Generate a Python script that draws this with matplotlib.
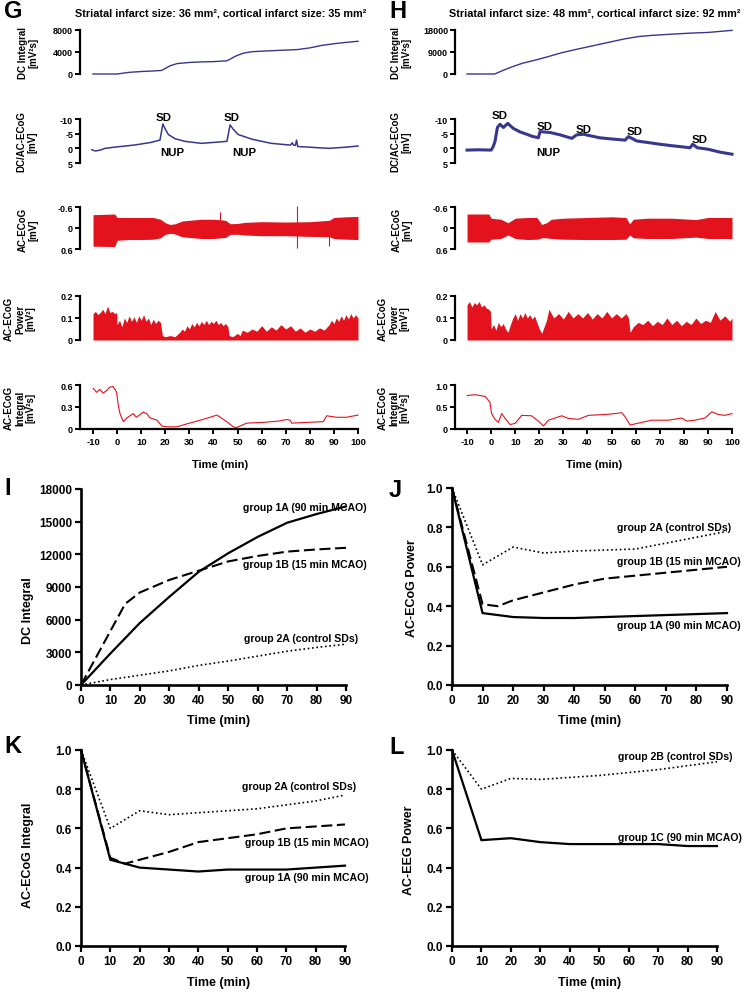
import matplotlib
matplotlib.use("Agg")
import matplotlib.pyplot as plt

plt.rcParams['font.family'] = ['Liberation Sans', 'DejaVu Sans']
plt.rcParams['font.weight'] = 'bold'
plt.rcParams['axes.unicode_minus'] = False

# =========================
# data: G (example recording, left)
# =========================
dc_g_t = [-10, 0, 5, 10, 15, 18.5, 20, 22, 25, 30, 35, 40, 45.5, 47, 48.5, 50, 52.5, 56, 60, 65, 70, 75, 80, 85, 90, 95, 100]
dc_g_v = [0, 0, 300, 450, 550, 650, 1000, 1500, 1900, 2100, 2200, 2250, 2400, 2700, 3100, 3400, 3800, 4050, 4150, 4250, 4350, 4450, 4750, 5200, 5500, 5750, 5950]

dcac_g_t = [-10.5, -9, -7, -5, 0, 7, 14, 17.8, 19, 19.9, 21.3, 24, 28, 35, 43, 45.6, 46.9, 48.3, 50.3, 56, 64, 72,
            72.7, 73.2, 74, 74.5, 75, 78, 83.5, 88, 95, 100]
dcac_g_v = [0.5, 0.9, 0.6, 0.0, -0.5, -1.1, -2.0, -2.8, -8.3, -6.7, -4.7, -3.3, -2.4, -1.7, -2.2, -2.4, -8.0, -6.4, -4.7, -3.1, -1.7, -1.1,
            -1.9, -1.1, -1.0, -2.8, -0.6, -0.5, -0.2, 0.0, -0.4, -0.8]

ac_g_t = [-10, -1, 0, 5, 10, 15, 18, 20, 22, 24, 27, 30, 35, 40, 45, 47, 50, 53, 60, 70, 80, 88, 90, 95, 100]
ac_g_top = [-0.38, -0.4, -0.3, -0.3, -0.3, -0.3, -0.25, -0.15, -0.1, -0.12, -0.2, -0.22, -0.25, -0.25, -0.22, -0.12, -0.13, -0.16,
            -0.18, -0.17, -0.18, -0.22, -0.3, -0.32, -0.33]
ac_g_bot = [0.52, 0.53, 0.35, 0.33, 0.33, 0.32, 0.28, 0.18, 0.15, 0.17, 0.25, 0.27, 0.3, 0.3, 0.27, 0.18, 0.18, 0.2,
            0.22, 0.22, 0.24, 0.25, 0.3, 0.32, 0.33]
spike_g_t = [42.7, 74.8, 87.8]
spike_g_top = [-0.45, -0.62, -0.2]
spike_g_bot = [0.25, 0.58, 0.5]

pw_g_t = [-10, -9, -8, -7, -6, -5, -4, -3, -2, -1, -0.2, 0, 1, 2, 3, 4, 5, 6, 7, 8, 9, 10, 11, 12, 13, 14, 15, 16, 17, 18,
          18.8, 20, 22, 24, 26, 27, 28, 29, 30, 31, 32, 33, 34, 35, 36, 37, 38, 39, 40, 41, 42, 43, 44, 45, 46, 46.5,
          48, 50, 51, 52, 54, 56, 58, 60, 62, 64, 66, 68, 70, 72, 74, 76, 78, 80, 82, 84, 86, 88, 89, 90, 91, 92, 93,
          94, 95, 96, 97, 98, 99, 100]
pw_g_v = [0.12, 0.13, 0.115, 0.125, 0.14, 0.12, 0.155, 0.125, 0.13, 0.12, 0.125, 0.07, 0.09, 0.06, 0.1, 0.08, 0.11, 0.085,
          0.105, 0.08, 0.11, 0.09, 0.115, 0.085, 0.1, 0.07, 0.095, 0.075, 0.09, 0.08, 0.02, 0.015, 0.02, 0.015, 0.035,
          0.05, 0.04, 0.065, 0.05, 0.075, 0.06, 0.08, 0.065, 0.085, 0.07, 0.09, 0.07, 0.085, 0.075, 0.09, 0.07, 0.08,
          0.065, 0.075, 0.06, 0.02, 0.015, 0.03, 0.02, 0.045, 0.035, 0.05, 0.04, 0.065, 0.04, 0.06, 0.045, 0.07, 0.05,
          0.065, 0.04, 0.055, 0.035, 0.05, 0.04, 0.055, 0.045, 0.07, 0.09, 0.075, 0.1, 0.085, 0.11, 0.09, 0.115, 0.095,
          0.12, 0.1, 0.115, 0.1]

int_g_t = [-9.9, -8.5, -7.2, -5.8, -4.5, -3.1, -1.7, -0.9, -0.2, 0.5, 1.2, 2.6, 4, 6.7, 8, 10.9, 12.3, 13.7, 16.6, 18.6,
           20.7, 24.8, 29, 34.5, 38.6, 41.4, 42.8, 45.5, 48.2, 49.6, 53.8, 60.7, 67.6, 70.4, 71.8, 72.5, 78.7, 85.6, 87,
           91.1, 95.3, 100]
int_g_v = [0.555, 0.50, 0.54, 0.49, 0.52, 0.57, 0.58, 0.54, 0.50, 0.32, 0.21, 0.10, 0.15, 0.21, 0.16, 0.23, 0.21, 0.15,
           0.12, 0.04, 0.03, 0.03, 0.07, 0.12, 0.16, 0.19, 0.16, 0.10, 0.03, 0.02, 0.08, 0.09, 0.11, 0.13, 0.12, 0.08,
           0.09, 0.10, 0.18, 0.16, 0.16, 0.19]

# =========================
# data: H (example recording, right)
# =========================
dc_h_t = [-10, 1.5, 5, 8.6, 13, 18.2, 24, 29.3, 35, 41.8, 48, 55.6, 61, 66.7, 75, 83.3, 90, 100]
dc_h_v = [0, 0, 1500, 2900, 4400, 5650, 7200, 8700, 10000, 11450, 12800, 14400, 15300, 15800, 16300, 16750, 17000, 17850]

dcac_h_t = [-10, -5, 0, 0.8, 1.6, 2.6, 3.7, 5.1, 6.9, 9.2, 12, 14.8, 17, 19.6, 20.3, 24.5, 28.6, 33.5, 35.5, 38.3, 45,
            50, 55.6, 57, 60.5, 65, 70, 75, 82.6, 83.7, 85.6, 90, 95, 100]
dcac_h_v = [0.6, 0.5, 0.6, -0.5, -2.3, -7.1, -8.2, -7.1, -8.5, -6.8, -5.6, -4.8, -4.1, -3.6, -5.7, -5.4, -4.6, -3.4, -4.6,
            -4.8, -3.6, -3.2, -2.8, -4.0, -2.5, -2.0, -1.4, -0.9, -0.2, -1.4, -0.2, 0.3, 1.3, 2.0]

ac_h_t = [-10, -1, 0, 4, 7, 10, 15, 19, 21, 23, 25, 30, 40, 50, 56, 57.5, 59, 65, 75, 85, 90, 100]
ac_h_top = [-0.4, -0.4, -0.28, -0.25, -0.15, -0.28, -0.3, -0.3, -0.1, -0.15, -0.25, -0.28, -0.3, -0.32, -0.3, -0.12,
            -0.25, -0.28, -0.28, -0.24, -0.3, -0.3]
ac_h_bot = [0.4, 0.4, 0.32, 0.3, 0.2, 0.3, 0.33, 0.32, 0.28, 0.28, 0.3, 0.32, 0.33, 0.33, 0.32, 0.2, 0.28, 0.3, 0.3,
            0.26, 0.3, 0.3]

pw_h_t = [-10, -9, -8, -7, -6, -5, -4, -3, -2, -1, -0.3, 0, 1, 2, 3, 4, 5, 6, 7, 8, 9, 10, 11, 12, 13, 14, 15, 16, 17,
          18, 19, 20, 21, 22, 23, 24, 26, 28, 30, 32, 34, 36, 38, 40, 42, 44, 46, 48, 50, 52, 54, 56, 57, 57.7, 59, 61,
          63, 65, 67, 69, 71, 73, 75, 77, 79, 81, 83, 85, 87, 89, 91, 93, 95, 97, 99, 100]
pw_h_v = [0.16, 0.175, 0.15, 0.17, 0.16, 0.175, 0.15, 0.16, 0.145, 0.14, 0.13, 0.05, 0.07, 0.045, 0.08, 0.06, 0.075,
          0.05, 0.035, 0.07, 0.1, 0.12, 0.09, 0.12, 0.1, 0.125, 0.1, 0.115, 0.095, 0.11, 0.08, 0.05, 0.03, 0.06, 0.09,
          0.14, 0.1, 0.12, 0.095, 0.13, 0.1, 0.12, 0.1, 0.125, 0.095, 0.12, 0.1, 0.13, 0.1, 0.12, 0.1, 0.12, 0.1,
          0.035, 0.06, 0.08, 0.07, 0.09, 0.065, 0.085, 0.07, 0.1, 0.07, 0.09, 0.065, 0.085, 0.07, 0.1, 0.075, 0.09,
          0.08, 0.13, 0.09, 0.11, 0.085, 0.1]

int_h_t = [-9.9, -6.7, -2.5, -0.5, 0.2, 1.6, 3, 4.4, 5.8, 7.9, 10, 12.7, 16.8, 19.6, 21.7, 23.8, 29.3, 32.1, 36.2, 40.4,
           47.3, 51.4, 54.2, 55.6, 57.7, 62.5, 66.7, 73.6, 79.1, 81.2, 84.6, 88.8, 91.6, 94.3, 97.1, 100]
int_h_v = [0.76, 0.78, 0.74, 0.61, 0.35, 0.22, 0.15, 0.35, 0.24, 0.10, 0.13, 0.31, 0.30, 0.18, 0.07, 0.20, 0.30, 0.24,
           0.22, 0.31, 0.33, 0.35, 0.37, 0.28, 0.09, 0.15, 0.20, 0.20, 0.25, 0.18, 0.20, 0.25, 0.39, 0.33, 0.31, 0.35]

# =========================
# data: group means (I-L)
# =========================
t_grp = [0, 10, 20, 30, 40, 50, 60, 70, 80, 90]
t_grp_1b = [0, 15, 20, 30, 40, 50, 60, 70, 80, 90]
t_grp_1b_jk = [0, 10, 15, 20, 30, 40, 50, 60, 70, 80, 90]

i_1a = [0, 2900, 5700, 8100, 10400, 12100, 13600, 14900, 15700, 16400]
i_1b = [0, 7450, 8500, 9650, 10500, 11350, 11850, 12250, 12450, 12600]
i_2a = [0, 500, 900, 1300, 1800, 2200, 2650, 3100, 3450, 3750]

j_2a = [1.0, 0.61, 0.70, 0.67, 0.68, 0.685, 0.69, 0.72, 0.75, 0.78]
j_1b = [1.0, 0.41, 0.40, 0.43, 0.47, 0.51, 0.54, 0.555, 0.57, 0.585, 0.60]
j_1a = [1.0, 0.365, 0.345, 0.34, 0.34, 0.345, 0.35, 0.355, 0.36, 0.365]

k_2a = [1.0, 0.60, 0.69, 0.67, 0.68, 0.69, 0.70, 0.72, 0.74, 0.77]
k_1b = [1.0, 0.45, 0.42, 0.44, 0.48, 0.53, 0.55, 0.57, 0.60, 0.61, 0.62]
k_1a = [1.0, 0.44, 0.40, 0.39, 0.38, 0.39, 0.39, 0.39, 0.40, 0.41]

l_2b = [1.0, 0.80, 0.855, 0.85, 0.86, 0.87, 0.885, 0.90, 0.92, 0.94]
l_1c = [1.0, 0.54, 0.55, 0.53, 0.52, 0.52, 0.52, 0.52, 0.51, 0.51]

# =========================
# layout helpers (pixel coords)
# =========================
W, H = 753, 995
BLUE = '#37378e'
RED = '#e3121c'

fig = plt.figure(figsize=(W / 100, H / 100), dpi=100)


def add_ax(x0, y0, x1, y1):
    return fig.add_axes([x0 / W, 1 - y1 / H, (x1 - x0) / W, (y1 - y0) / H])


def ftext(x, y, s, **kw):
    fig.text(x / W, 1 - y / H, s, **kw)


rows_y = [(31, 75), (120, 164), (208, 250), (297, 341), (386, 430)]


def trace_axes(x0, x1, xmin):
    axs = []
    for i, (y0, y1) in enumerate(rows_y):
        ax = add_ax(x0, y0, x1, y1)
        ax.patch.set_alpha(0)
        ax.set_xlim(xmin, 100)
        for s in ['top', 'right', 'bottom']:
            ax.spines[s].set_visible(False)
        ax.spines['left'].set_linewidth(1.6)
        ax.tick_params(axis='y', direction='out', length=3.5, width=1.4, labelsize=6.5, pad=1.5)
        if i == 4:
            ax.spines['bottom'].set_visible(True)
            ax.spines['bottom'].set_linewidth(1.6)
            ax.set_xticks(range(-10, 101, 10))
            ax.tick_params(axis='x', direction='out', length=3.5, width=1.4, labelsize=6.8, pad=2)
        else:
            ax.set_xticks([])
        axs.append(ax)
    return axs


def set_y(ax, lim, ticks, labels):
    ax.set_ylim(*lim)
    ax.set_yticks(ticks)
    ax.set_yticklabels(labels)


# ---------- G ----------
g = trace_axes(80, 358, -15.4)
set_y(g[0], (0, 8000), [0, 4000, 8000], ['0', '4000', '8000'])
set_y(g[1], (5, -10), [-10, -5, 0, 5], ['-10', '-5', '0', '5'])
set_y(g[2], (0.6, -0.6), [-0.6, 0, 0.6], ['-0.6', '0', '0.6'])
set_y(g[3], (0, 0.2), [0, 0.1, 0.2], ['0', '0.1', '0.2'])
set_y(g[4], (0, 0.6), [0, 0.3, 0.6], ['0', '0.3', '0.6'])

g[0].plot(dc_g_t, dc_g_v, color=BLUE, lw=1.0, clip_on=False)
g[1].plot(dcac_g_t, dcac_g_v, color=BLUE, lw=1.1, clip_on=False)
g[2].fill_between(ac_g_t, ac_g_top, ac_g_bot, color=RED, lw=0, clip_on=False)
g[2].vlines(spike_g_t, spike_g_top, spike_g_bot, color=RED, lw=0.8, clip_on=False)
g[3].fill_between(pw_g_t, 0, pw_g_v, color=RED, lw=0)
g[4].plot(int_g_t, int_g_v, color=RED, lw=0.8, clip_on=False)

for ax_, tt, vv, ss in [(g[1], 19.1, -10.6, 'SD'), (g[1], 47.7, -10.6, 'SD'),
                        (g[1], 22.8, 1.3, 'NUP'), (g[1], 52.8, 1.3, 'NUP')]:
    ax_.text(tt, vv, ss, fontsize=8.2, ha='center', va='center', clip_on=False)

# ---------- H ----------
h = trace_axes(455, 732, -15.0)
set_y(h[0], (0, 18000), [0, 9000, 18000], ['0', '9000', '18000'])
set_y(h[1], (5, -10), [-10, -5, 0, 5], ['-10', '-5', '0', '5'])
set_y(h[2], (0.6, -0.6), [-0.6, 0, 0.6], ['-0.6', '0', '0.6'])
set_y(h[3], (0, 0.2), [0, 0.1, 0.2], ['0', '0.1', '0.2'])
set_y(h[4], (0, 1.0), [0, 0.5, 1.0], ['0', '0.5', '1.0'])

h[0].plot(dc_h_t, dc_h_v, color=BLUE, lw=1.0, clip_on=False)
h[1].plot(dcac_h_t, dcac_h_v, color=BLUE, lw=2.2, clip_on=False)
h[2].fill_between(ac_h_t, ac_h_top, ac_h_bot, color=RED, lw=0, clip_on=False)
h[3].fill_between(pw_h_t, 0, pw_h_v, color=RED, lw=0)
h[4].plot(int_h_t, int_h_v, color=RED, lw=0.8, clip_on=False)

for tt, vv in [(3.7, -11.3), (22, -7.6), (38.2, -6.6), (59.7, -5.9), (86.7, -3.2)]:
    h[1].text(tt, vv, 'SD', fontsize=8.2, ha='center', va='center', clip_on=False)
h[1].text(23.6, 1.1, 'NUP', fontsize=8.2, ha='center', va='center', clip_on=False)

# row labels of the traces
row_labels = ['DC Integral\n[mV²s]', 'DC/AC-ECoG\n[mV]', 'AC-ECoG\n[mV]',
              'AC-ECoG\nPower\n[mV²]', 'AC-ECoG\nIntegral\n[mV²s]']
row_cy = [53, 142, 230, 319, 408]
g_lx = [28, 27, 28, 20, 20]
h_lx = [401, 401, 402, 394, 394]
for lab, cy, gx, hx in zip(row_labels, row_cy, g_lx, h_lx):
    ftext(gx, cy, lab, rotation=90, ha='center', va='center', fontsize=7, linespacing=1.1, multialignment='center')
    ftext(hx, cy, lab, rotation=90, ha='center', va='center', fontsize=7, linespacing=1.1, multialignment='center')

ftext(221, 14, 'Striatal infarct size: 36 mm², cortical infarct size: 35 mm²', ha='center', va='center', fontsize=7.8)
ftext(595, 14, 'Striatal infarct size: 48 mm², cortical infarct size: 92 mm²', ha='center', va='center', fontsize=7.8)
ftext(220, 465, 'Time (min)', ha='center', va='center', fontsize=8)
ftext(594, 465, 'Time (min)', ha='center', va='center', fontsize=8)


# ---------- I-L ----------
def group_axes(box, ylim, yticks, ylabels):
    ax = add_ax(*box)
    ax.patch.set_alpha(0)
    ax.set_xlim(0, 90)
    ax.set_ylim(*ylim)
    ax.set_xticks(range(0, 91, 10))
    ax.set_yticks(yticks)
    ax.set_yticklabels(ylabels)
    for s in ['top', 'right']:
        ax.spines[s].set_visible(False)
    for s in ['left', 'bottom']:
        ax.spines[s].set_linewidth(1.9)
    ax.tick_params(direction='out', length=4, width=1.6, labelsize=8.5, pad=2.5)
    return ax


def solid(ax, x, y):
    ax.plot(x, y, color='black', lw=1.6, clip_on=False, solid_joinstyle='miter')


def dashed(ax, x, y):
    ax.plot(x, y, color='black', lw=1.5, dashes=(5.3, 2.2), clip_on=False)


def dotted(ax, x, y):
    ax.plot(x, y, color='black', lw=1.2, dashes=(1, 1.6), clip_on=False)


frac_ticks = [0, 0.2, 0.4, 0.6, 0.8, 1.0]
frac_labels = ['0.0', '0.2', '0.4', '0.6', '0.8', '1.0']

ax_i = group_axes((81, 490, 346, 686), (0, 18000), list(range(0, 18001, 3000)),
                  [str(v) for v in range(0, 18001, 3000)])
solid(ax_i, t_grp, i_1a)
dashed(ax_i, t_grp_1b, i_1b)
dotted(ax_i, t_grp, i_2a)
ax_i.text(55, 16350, 'group 1A (90 min MCAO)', fontsize=7.6, va='center', clip_on=False)
ax_i.text(55, 11100, 'group 1B (15 min MCAO)', fontsize=7.6, va='center', clip_on=False)
ax_i.text(55.3, 4350, 'group 2A (control SDs)', fontsize=7.6, va='center', clip_on=False)

ax_j = group_axes((452, 489, 727, 686), (0, 1.0), frac_ticks, frac_labels)
dotted(ax_j, t_grp, j_2a)
dashed(ax_j, t_grp_1b_jk, j_1b)
solid(ax_j, t_grp, j_1a)
ax_j.text(54, 0.80, 'group 2A (control SDs)', fontsize=7.6, va='center', clip_on=False)
ax_j.text(54, 0.63, 'group 1B (15 min MCAO)', fontsize=7.6, va='center', clip_on=False)
ax_j.text(54, 0.305, 'group 1A (90 min MCAO)', fontsize=7.6, va='center', clip_on=False)

ax_k = group_axes((81, 751, 345, 947), (0, 1.0), frac_ticks, frac_labels)
dotted(ax_k, t_grp, k_2a)
dashed(ax_k, t_grp_1b_jk, k_1b)
solid(ax_k, t_grp, k_1a)
ax_k.text(55, 0.816, 'group 2A (control SDs)', fontsize=7.6, va='center', clip_on=False)
ax_k.text(55.9, 0.53, 'group 1B (15 min MCAO)', fontsize=7.6, va='center', clip_on=False)
ax_k.text(55.9, 0.352, 'group 1A (90 min MCAO)', fontsize=7.6, va='center', clip_on=False)

ax_l = group_axes((452, 751, 717, 947), (0, 1.0), frac_ticks, frac_labels)
dotted(ax_l, t_grp, l_2b)
solid(ax_l, t_grp, l_1c)
ax_l.text(56.4, 0.97, 'group 2B (control SDs)', fontsize=7.6, va='center', clip_on=False)
ax_l.text(56.4, 0.556, 'group 1C (90 min MCAO)', fontsize=7.6, va='center', clip_on=False)

ftext(28, 611, 'DC Integral', rotation=90, ha='center', va='center', fontsize=9)
ftext(412, 588, 'AC-ECoG Power', rotation=90, ha='center', va='center', fontsize=9)
ftext(28, 855, 'AC-ECoG Integral', rotation=90, ha='center', va='center', fontsize=9)
ftext(409, 850, 'AC-EEG Power', rotation=90, ha='center', va='center', fontsize=9)
for x, y in [(219, 721), (590, 721), (219, 983), (590, 983)]:
    ftext(x, y, 'Time (min)', ha='center', va='center', fontsize=9)

# panel letters
for x, y, s in [(4, 12, 'G'), (389, 12, 'H'), (4, 489, 'I'), (389, 491, 'J'), (4, 747, 'K'), (389, 748, 'L')]:
    ftext(x, y, s, ha='left', va='center', fontsize=17)

fig.savefig('out.png', dpi=100)
